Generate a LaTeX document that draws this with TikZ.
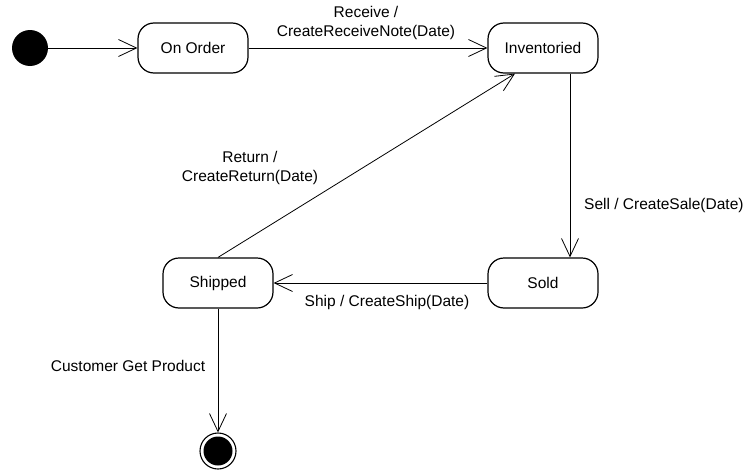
\documentclass[tikz,border=0pt]{standalone}
\usepackage{fontspec}
\setmainfont{Liberation Sans}
\usetikzlibrary{arrows.meta,calc}
\begin{document}
\begin{tikzpicture}[x=1pt,y=-1pt,
  every node/.style={font=\fontsize{15.5}{19}\selectfont},
  state/.style={draw,rounded corners=16pt,minimum width=110pt,minimum height=50pt,line width=1.2pt,inner sep=0pt},
  trans/.style={draw,line width=0.8pt,-{Straight Barb[length=18pt,width=17pt,line width=0.8pt]}},
  lbl/.style={align=center,inner sep=0pt}]
\useasboundingbox (0,0) rectangle (752,471);
\node[circle,fill=black,minimum size=36pt,inner sep=0pt] (init) at (30,48) {};
\node[state] (order) at (193,48) {On Order};
\node[state] (inv) at (543,48) {Inventoried};
\node[state] (sold) at (543,283) {Sold};
\node[state] (ship) at (218,283) {Shipped};
\node[circle,draw,line width=1.1pt,minimum size=36pt,inner sep=0pt] (final) at (218,451) {};
\node[circle,fill=black,minimum size=29pt,inner sep=0pt] at (final) {};
\coordinate (invR) at ($(inv.south)+(-28,0)$);
\coordinate (invS) at ($(inv.south)+(27,0)$);
\coordinate (soldN) at ($(sold.north)+(27,0)$);
\draw[trans] (init) -- (order);
\draw[trans] (order) -- (inv);
\draw[trans] (invS) -- (soldN);
\draw[trans] (sold) -- (ship);
\draw[trans] (ship.north) -- (invR);
\draw[trans] (ship.south) -- (final.north);
\node[lbl] (l1) at (366,22.5) {Receive /\\CreateReceiveNote(Date)};
\node[lbl] (l2) at (250,167.5) {Return /\\CreateReturn(Date)};
\node[lbl,anchor=west] (l3) at (584,205) {Sell / CreateSale(Date)};
\node[lbl] (l4) at (387,302) {Ship / CreateShip(Date)};
\node[lbl] (l5) at (128,366) {Customer Get Product};
\end{tikzpicture}
\end{document}
